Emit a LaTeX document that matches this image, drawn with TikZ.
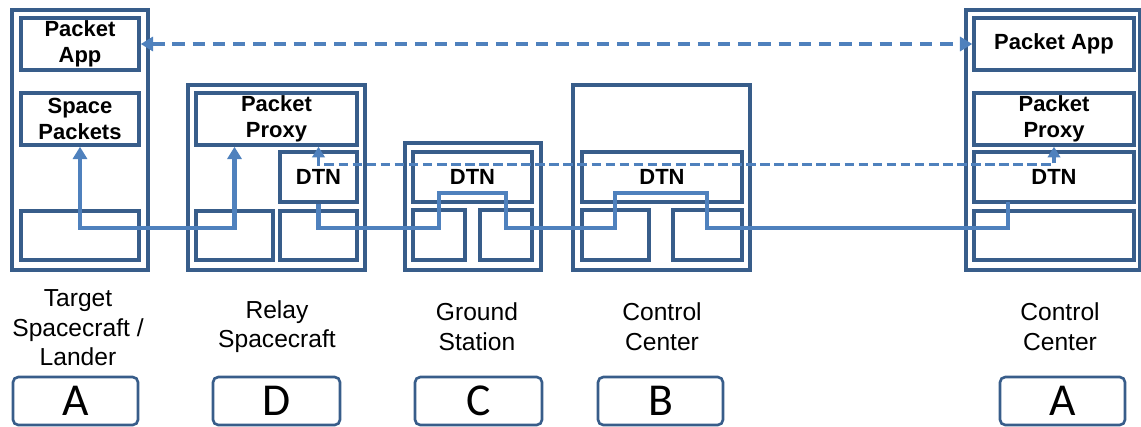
\documentclass[tikz,border=0pt]{standalone}
\usepackage{fontspec}
\setmainfont{Liberation Sans}
\newfontfamily\lettfont{Carlito}
\usetikzlibrary{arrows.meta,positioning}
\definecolor{boxc}{HTML}{385D8A}
\definecolor{flowc}{HTML}{4F81BD}
\tikzset{
  sz/.style 2 args={minimum width=#1*0.02cm, minimum height=#2*0.02cm},
  nodebox/.style={draw=boxc, line width=2pt, inner sep=0pt},
  stackbox/.style={draw=boxc, line width=2pt, inner sep=0pt, align=center,
    font=\fontsize{12.5}{15}\selectfont\bfseries},
  lbl/.style={align=center, font=\fontsize{14}{16.8}\selectfont},
  idbox/.style={draw=boxc, line width=1.5pt, rounded corners=3pt, sz={125}{48},
    font=\lettfont\fontsize{26}{30}\selectfont},
  flow/.style={draw=flowc, line width=2.4pt, >={Triangle[length=7pt,width=8pt]}},
  link/.style={draw=flowc, line width=2.3pt, dash pattern=on 7pt off 4.5pt,
    >={Triangle[length=7pt,width=8pt]}},
  sublink/.style={draw=flowc, line width=1.9pt, dash pattern=on 5.5pt off 2.5pt,
    >={Triangle[length=6pt,width=7pt]}},
}

\begin{document}
\begin{tikzpicture}[x=0.02cm, y=-0.02cm]
  \useasboundingbox (0,0) rectangle (1141,426);

  % target spacecraft / lander
  \node[nodebox, sz={136}{260}] (tgt) at (80,140) {};
  \node[stackbox, sz={118}{52}] (tgtapp) at (80,44) {Packet\\App};
  \node[stackbox, sz={118}{52}] (tgtsp) at (80,119) {Space\\Packets};
  \node[stackbox, sz={118}{49}] (tgtlow) at (80,235.5) {};

  % relay spacecraft
  \node[nodebox, sz={177}{185}] (rly) at (276.5,177.5) {};
  \node[stackbox, sz={161}{52}] (rlyproxy) at (276.5,119) {Packet\\Proxy};
  \node[stackbox, sz={77}{50}] (rlydtn) at (318.5,177) {DTN};
  \node[stackbox, sz={77}{49}] (rlylowa) at (234.5,235.5) {};
  \node[stackbox, sz={77}{49}] (rlylowb) at (318.5,235.5) {};

  % ground station
  \node[nodebox, sz={136}{127}] (gs) at (473,206.5) {};
  \node[stackbox, sz={119}{50}] (gsdtn) at (472.5,177) {DTN};
  \node[stackbox, sz={52}{50}] (gslowa) at (439,235) {};
  \node[stackbox, sz={52}{50}] (gslowb) at (506,235) {};

  % control center B
  \node[nodebox, sz={177}{185}] (ccb) at (661.5,177.5) {};
  \node[stackbox, sz={160}{50}] (ccbdtn) at (662,177) {DTN};
  \node[stackbox, sz={67}{50}] (ccblowa) at (615.5,235) {};
  \node[stackbox, sz={69}{50}] (ccblowb) at (707.5,235) {};

  % control center A
  \node[nodebox, sz={174}{260}] (cca) at (1053,140) {};
  \node[stackbox, sz={160}{52}] (ccaapp) at (1054,44) {Packet App};
  \node[stackbox, sz={160}{52}] (ccaproxy) at (1054,119) {Packet\\Proxy};
  \node[stackbox, sz={160}{50}] (ccadtn) at (1054,177) {DTN};
  \node[stackbox, sz={160}{49}] (ccalow) at (1054,235.5) {};
  \coordinate (ccain) at (1008,202);

  % links
  \draw[link,<->] (tgtapp.east) -- (ccaapp.west);
  \draw[sublink,<->] (rlyproxy.south -| rlydtn) -- ++(0,18) -| (ccaproxy.south);
  \draw[flow,<->] (tgtsp.south) -- ++(0,81) -| (rlyproxy.south -| rlylowa);
  \draw[flow] (rlydtn.south) -- ++(0,24) -- ++(120.5,0) -- ++(0,-35) -- ++(67,0)
    -- ++(0,35) -- ++(109,0) -- ++(0,-35) -- ++(92,0) -- ++(0,35) -| (ccain);

  % names
  \node[lbl] (tgtname) at (78,328) {Target\\Spacecraft /\\Lander};
  \node[lbl] (rlyname) at (277,326.5) {Relay\\Spacecraft};
  \node[lbl] (gsname) at (477,326.5) {Ground\\Station};
  \node[lbl] (ccbname) at (662,326.5) {Control\\Center};
  \node[lbl] (ccaname) at (1060,326.5) {Control\\Center};

  % letters
  \node[idbox] (tgtid) at (75.5,401) {A};
  \node[idbox, sz={127}{48}] (rlyid) at (276.5,401) {D};
  \node[idbox, sz={127}{48}] (gsid) at (478.5,401) {C};
  \node[idbox] (ccbid) at (660.5,401) {B};
  \node[idbox] (ccaid) at (1062.5,401) {A};

\end{tikzpicture}
\end{document}
